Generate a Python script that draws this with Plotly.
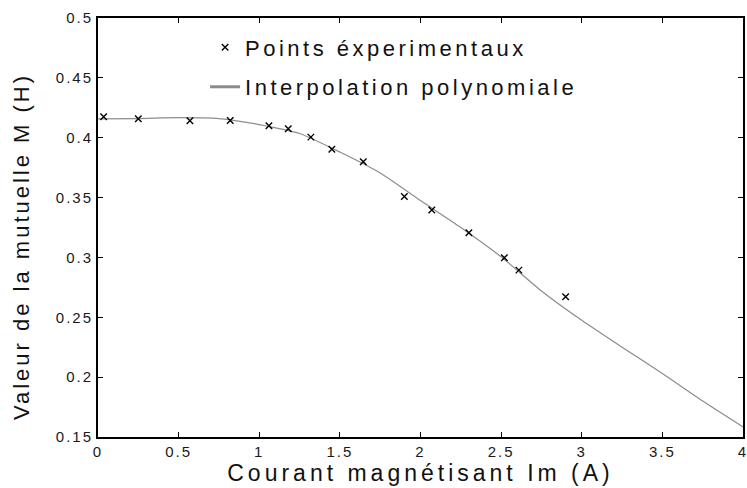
import plotly.graph_objects as go

# Measured points: magnetising current (A) vs mutual inductance (H)
current_meas = [0.035, 0.25, 0.57, 0.82, 1.06, 1.18, 1.32, 1.45, 1.645, 1.90,
                2.07, 2.30, 2.52, 2.61, 2.90]
mutual_meas = [0.4175, 0.4158, 0.4141, 0.4143, 0.4099, 0.4074, 0.4005, 0.3904,
               0.3800, 0.3508, 0.3396, 0.3206, 0.2997, 0.2894, 0.2671]

# Polynomial fit curve, sampled along the current axis
current_fit = [0.0, 0.25, 0.5, 0.75, 1.0, 1.25, 1.5, 1.75, 2.0, 2.25,
               2.5, 2.75, 3.0, 3.25, 3.5, 3.75, 4.0]
mutual_fit = [0.4158, 0.4160, 0.4167, 0.4160, 0.4110, 0.4035, 0.3880, 0.3705,
              0.3475, 0.3250, 0.3005, 0.2720, 0.2475, 0.2250, 0.2030, 0.1800,
              0.1584]

x_ticks = [0, 0.5, 1, 1.5, 2, 2.5, 3, 3.5, 4]
x_tick_text = ["0", "0.5", "1", "1.5", "2", "2.5", "3", "3.5", "4"]
y_ticks = [0.15, 0.2, 0.25, 0.3, 0.35, 0.4, 0.45, 0.5]
y_tick_text = ["0.15", "0.2", "0.25", "0.3", "0.35", "0.4", "0.45", "0.5"]

FONT = "Liberation Sans, Arial, sans-serif"

fig = go.Figure()

fig.add_trace(go.Scatter(
    x=current_fit, y=mutual_fit, mode="lines",
    line=dict(color="#8c8c8c", width=1.2, shape="spline", smoothing=0.6),
    showlegend=False, hoverinfo="skip",
))

fig.add_trace(go.Scatter(
    x=current_meas, y=mutual_meas, mode="markers",
    marker=dict(symbol="x-thin", size=6.5, color="black",
                line=dict(color="black", width=1.4)),
    name="Points éxperimentaux", legendgroup="a",
))

# legend entry for the fitted curve (thicker swatch)
fig.add_trace(go.Scatter(
    x=[None], y=[None], mode="lines",
    line=dict(color="#8c8c8c", width=3),
    name="Interpolation polynomiale", legendgroup="b",
))

axis_common = dict(
    showline=True, linecolor="black", linewidth=2, mirror="allticks",
    ticks="inside", ticklen=5, tickwidth=1, tickcolor="black",
    showgrid=False, zeroline=False, ticklabeloverflow="allow",
    tickfont=dict(family=FONT, size=15, color="#1a1a1a"),
)

fig.update_layout(
    width=747, height=488,
    margin=dict(l=98, r=0, t=18, b=51),
    paper_bgcolor="white", plot_bgcolor="white",
    font=dict(family=FONT, color="#111111"),
    xaxis=dict(
        range=[0, 4], tickvals=x_ticks, ticktext=x_tick_text,
        title=dict(text="Courant magnétisant Im (A)",
                   font=dict(family=FONT, size=23, color="#111111"),
                   standoff=3),
        **axis_common,
    ),
    yaxis=dict(
        range=[0.15, 0.5], tickvals=y_ticks, ticktext=y_tick_text,
        title=dict(text="Valeur de la mutuelle M (H)",
                   font=dict(family=FONT, size=22, color="#111111"),
                   standoff=28),
        **axis_common,
    ),
    legend=dict(
        x=0.166, y=0.98, xanchor="left", yanchor="top",
        bgcolor="rgba(0,0,0,0)", borderwidth=0,
        font=dict(family=FONT, size=22, color="#111111"),
        traceorder="grouped", tracegroupgap=8,
    ),
    showlegend=True,
)

spacing_js = """
var gd = document.getElementById('{plot_id}');
function spread(sel, px) {
  gd.querySelectorAll(sel).forEach(function (el) { el.style.letterSpacing = px; });
}
spread('.legendtext', '3.5px');
spread('.g-xtitle text', '4px');
spread('.g-ytitle text', '3px');
spread('.xtick text', '2px');
spread('.ytick text', '2px');
gd.querySelectorAll('.legend .scrollbox, .legend').forEach(function (el) {
  el.removeAttribute('clip-path');
});
gd.querySelectorAll('.g-ytitle').forEach(function (el) {
  el.setAttribute('transform', 'translate(0,19)');
});
"""

fig.write_html("out.html", post_script=spacing_js)
